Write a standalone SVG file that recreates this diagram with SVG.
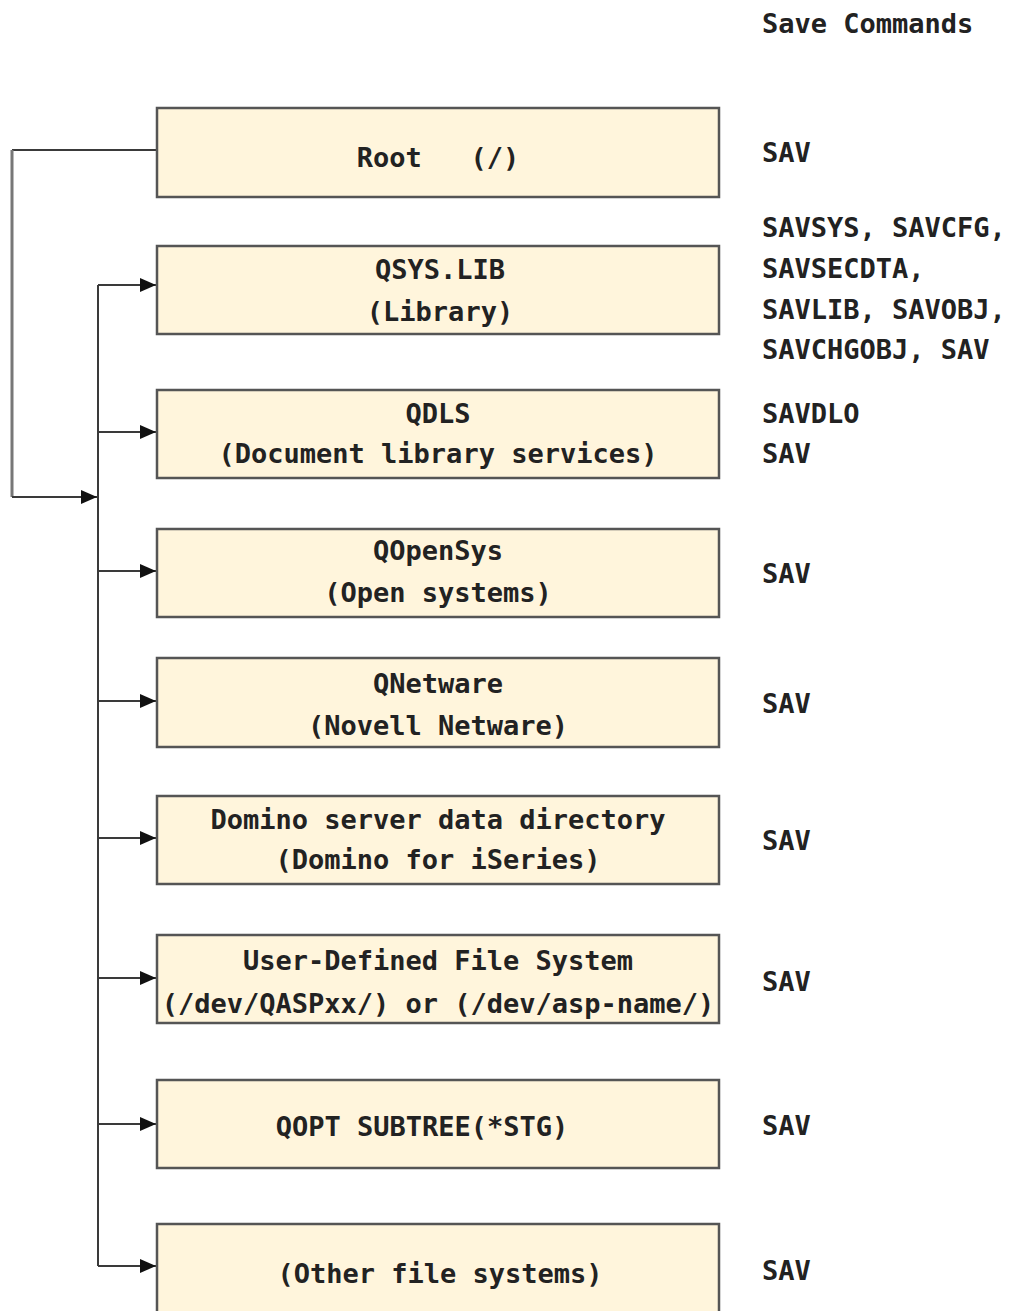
<svg xmlns="http://www.w3.org/2000/svg" width="1010" height="1311" viewBox="0 0 1010 1311">
<style>
text{font-family:"DejaVu Sans Mono","Liberation Mono",monospace;font-weight:bold;font-size:27px;fill:#222;}
.c{text-anchor:middle;}
.box{fill:#FFF5DC;stroke:#555;stroke-width:2.5;}
.ln{fill:none;stroke:#3a3a3a;stroke-width:2;}
.ln2{fill:none;stroke:#777;stroke-width:3;}
</style>
<defs>
<marker id="ah" markerUnits="userSpaceOnUse" markerWidth="16" markerHeight="16" viewBox="0 0 16 16" refX="16" refY="8" orient="auto">
<path d="M0,1 L16,8 L0,15 Z" fill="#111"/>
</marker>
</defs>
<g id="connectors">
<path class="ln" d="M157,150 H12"/>
<path class="ln2" d="M12,150 V497"/>
<path class="ln" d="M12,497 H97" marker-end="url(#ah)"/>
<path class="ln" d="M98,285 V1266"/>
<path class="ln" d="M98,285 H156" marker-end="url(#ah)"/>
<path class="ln" d="M98,432 H156" marker-end="url(#ah)"/>
<path class="ln" d="M98,571 H156" marker-end="url(#ah)"/>
<path class="ln" d="M98,701 H156" marker-end="url(#ah)"/>
<path class="ln" d="M98,838 H156" marker-end="url(#ah)"/>
<path class="ln" d="M98,978 H156" marker-end="url(#ah)"/>
<path class="ln" d="M98,1124 H156" marker-end="url(#ah)"/>
<path class="ln" d="M98,1266 H156" marker-end="url(#ah)"/>
</g>
<g id="root"><rect class="box" x="157" y="108" width="562" height="89"/><text class="c" x="438" y="167" xml:space="preserve">Root   (/)</text></g>
<g id="qsys"><rect class="box" x="157" y="246" width="562" height="88"/><text class="c" x="440" y="279">QSYS.LIB</text><text class="c" x="440" y="321">(Library)</text></g>
<g id="qdls"><rect class="box" x="157" y="390" width="562" height="88"/><text class="c" x="438" y="423">QDLS</text><text class="c" x="438" y="463">(Document library services)</text></g>
<g id="qopensys"><rect class="box" x="157" y="529" width="562" height="88"/><text class="c" x="438" y="560">QOpenSys</text><text class="c" x="438" y="602">(Open systems)</text></g>
<g id="qnetware"><rect class="box" x="157" y="658" width="562" height="89"/><text class="c" x="438" y="693">QNetware</text><text class="c" x="438" y="735">(Novell Netware)</text></g>
<g id="domino"><rect class="box" x="157" y="796" width="562" height="88"/><text class="c" x="438" y="829">Domino server data directory</text><text class="c" x="438" y="869">(Domino for iSeries)</text></g>
<g id="udfs"><rect class="box" x="157" y="935" width="562" height="88"/><text class="c" x="438" y="970">User-Defined File System</text><text class="c" x="438" y="1013">(/dev/QASPxx/) or (/dev/asp-name/)</text></g>
<g id="qopt"><rect class="box" x="157" y="1080" width="562" height="88"/><text class="c" x="422" y="1136">QOPT SUBTREE(*STG)</text></g>
<g id="other"><rect class="box" x="157" y="1224" width="562" height="100"/><text class="c" x="440" y="1283">(Other file systems)</text></g>
<g id="commands">
<text x="762" y="33">Save Commands</text>
<text x="762" y="162">SAV</text>
<text x="762" y="237">SAVSYS, SAVCFG,</text>
<text x="762" y="278">SAVSECDTA,</text>
<text x="762" y="319">SAVLIB, SAVOBJ,</text>
<text x="762" y="359">SAVCHGOBJ, SAV</text>
<text x="762" y="423">SAVDLO</text>
<text x="762" y="463">SAV</text>
<text x="762" y="583">SAV</text>
<text x="762" y="713">SAV</text>
<text x="762" y="850">SAV</text>
<text x="762" y="991">SAV</text>
<text x="762" y="1135">SAV</text>
<text x="762" y="1280">SAV</text>
</g>
</svg>
